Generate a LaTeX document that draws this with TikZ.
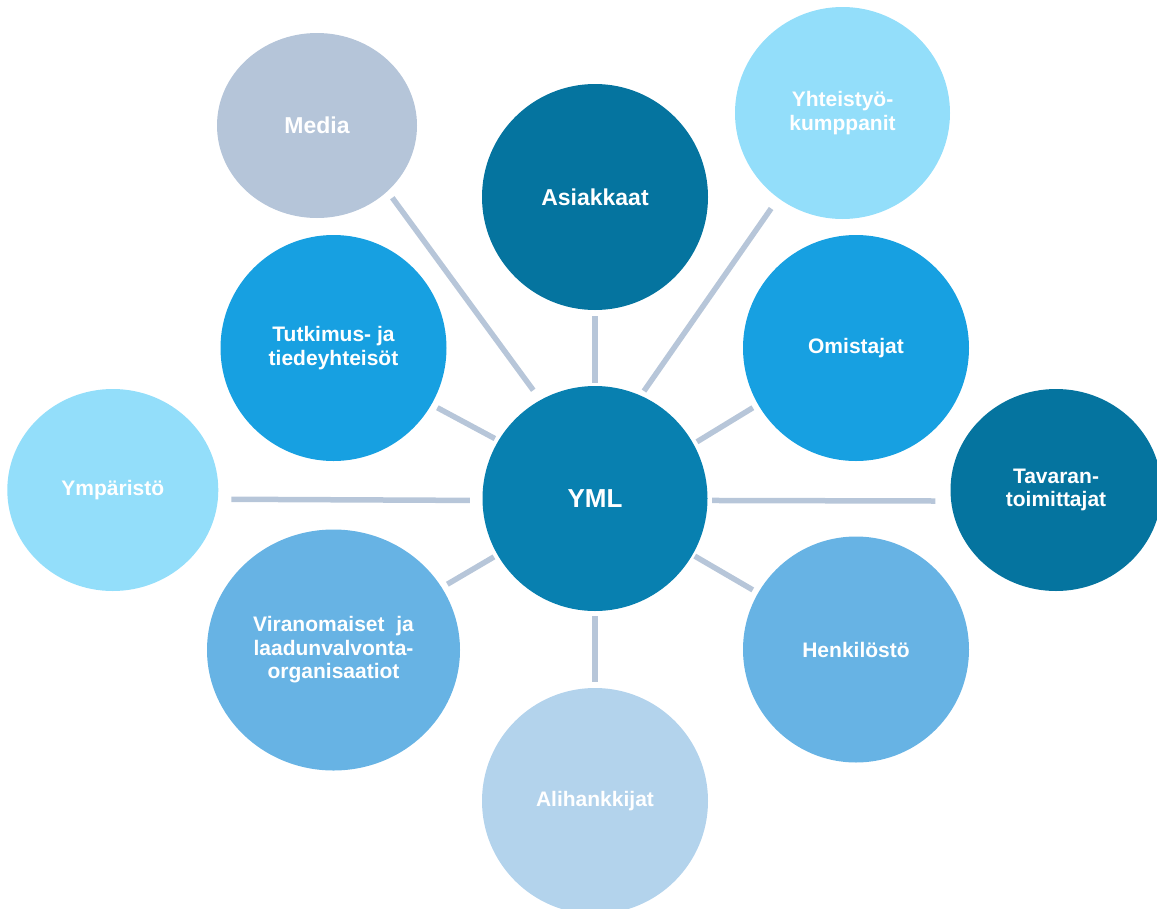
\documentclass[tikz,border=0pt]{standalone}
\usepackage{fontspec}
\setmainfont{Liberation Sans}
\usetikzlibrary{shapes.geometric}
\definecolor{deepteal}{HTML}{05749F}
\definecolor{hubblue}{HTML}{0880B0}
\definecolor{brightblue}{HTML}{17A0E1}
\definecolor{paleblue}{HTML}{93DEFA}
\definecolor{greyblue}{HTML}{B5C5D9}
\definecolor{midblue}{HTML}{67B3E4}
\definecolor{softblue}{HTML}{B3D3EC}
\definecolor{linkgrey}{HTML}{B7C6D9}
\begin{document}
\begin{tikzpicture}
		[x=1pt, y=-1pt,
		party/.style={ellipse, inner sep=0pt, text=white, align=center, minimum width=226pt, minimum height=226pt, font=\bfseries\fontsize{21}{23.5}\selectfont},
		bigtext/.style={font=\bfseries\fontsize{23}{25}\selectfont},
		link/.style={draw=linkgrey, line width=5.5pt}]
		\useasboundingbox (0,0) rectangle (1157,908);
		\node[party, fill=hubblue, minimum width=225pt, minimum height=225pt, font=\bfseries\fontsize{26}{28}\selectfont] (yml) at (595,498.5) {YML};
		\node[party, fill=deepteal, bigtext] (asiakkaat) at (595,197) {Asiakkaat};
		\node[party, fill=greyblue, bigtext, minimum width=200pt, minimum height=185pt] (media) at (317,125.5) {Media};
		\node[party, fill=paleblue, minimum width=215pt, minimum height=212pt] (yhteistyo) at (842.5,113) {Yhteistyö-\\kumppanit};
		\node[party, fill=brightblue] (tutkimus) at (333.5,348) {Tutkimus- ja\\tiedeyhteisöt};
		\node[party, fill=brightblue] (omistajat) at (856,348) {Omistajat};
		\node[party, fill=paleblue, minimum width=211pt, minimum height=202pt] (ymparisto) at (112.8,490) {Ympäristö};
		\node[party, fill=deepteal, minimum width=211pt, minimum height=202pt] (tavaran) at (1056,490) {Tavaran-\\toimittajat};
		\node[party, fill=midblue, minimum width=253pt, minimum height=241pt] (viranomaiset) at (333.5,650) {Viranomaiset~ ja\\laadunvalvonta-\\organisaatiot};
		\node[party, fill=midblue] (henkilosto) at (856,649.5) {Henkilöstö};
		\node[party, fill=softblue] (alihankkijat) at (595,801) {Alihankkijat};

		\draw[link, shorten <=6pt, shorten >=3pt] (asiakkaat.270) -- (yml.90);
		\draw[link, shorten <=8pt, shorten >=12pt] (media.-43.3) -- (yml.119.3);
		\draw[link, shorten <=12.5pt, shorten >=5.5pt] (yhteistyo.-127.4) -- (yml.66.6);
		\draw[link, shorten <=6.6pt, shorten >=4pt] (tutkimus.-30.1) -- (yml.149.9);
		\draw[link, shorten <=6pt, shorten >=4pt] (omistajat.210.2) -- (yml.29.7);
		\draw[link, shorten <=13.4pt, shorten >=12.5pt] (ymparisto.-5.7) -- (yml.181);
		\draw[link, shorten <=15.6pt, shorten >=4.5pt] (tavaran.186) -- (yml.-1.2);
		\draw[link, shorten <=6.4pt, shorten >=4pt] (viranomaiset.30.2) -- (yml.210.5);
		\draw[link, shorten <=6pt, shorten >=2.5pt] (henkilosto.150) -- (yml.-30.6);
		\draw[link, shorten <=6pt, shorten >=4.5pt] (alihankkijat.90) -- (yml.270);
	\end{tikzpicture}
\end{document}
